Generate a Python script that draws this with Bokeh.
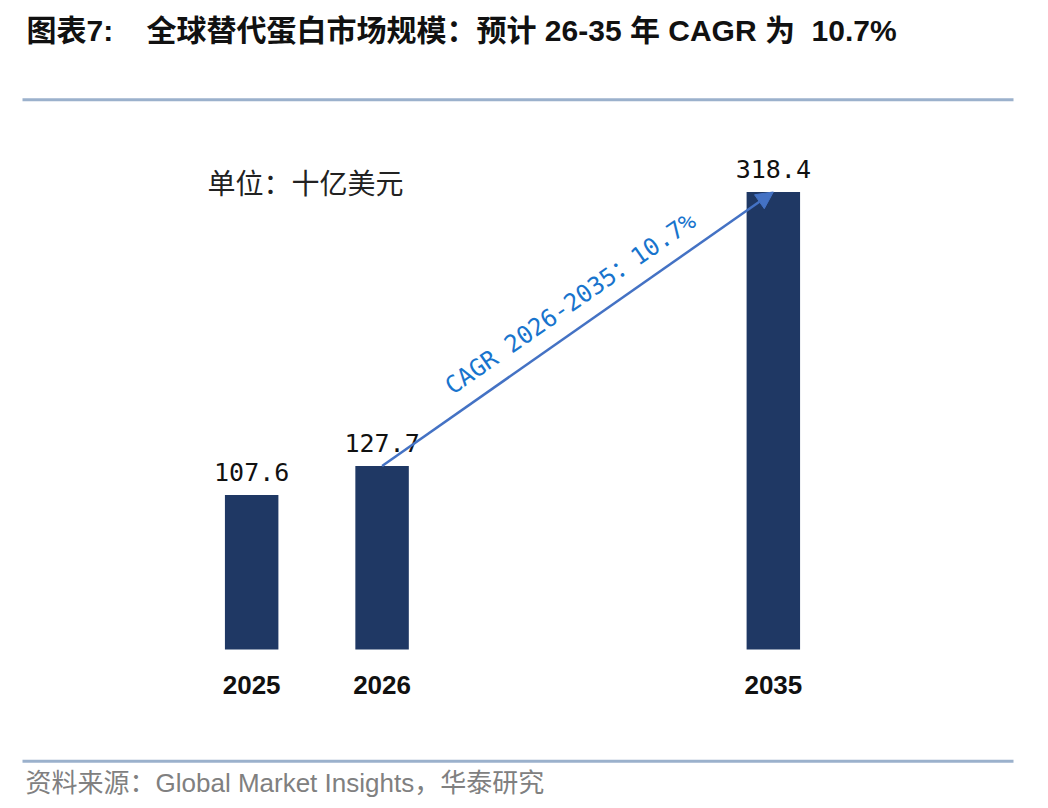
from bokeh.plotting import figure
from bokeh.models import (FactorRange, Range1d, Label, BoxAnnotation, Arrow,
                          NormalHead, ColumnDataSource)
from bokeh.core.properties import value
from bokeh.embed import file_html
from bokeh.resources import INLINE

# ---------------- data ----------------
years = ["2025", "2026", "2035"]
market_size = [107.6, 127.7, 318.4]          # 十亿美元
value_labels = ["107.6", "127.7", "318.4"]
axis_factors = ["2025", "2026", " ", "  ", "2035"]   # blank slots keep the gap before 2035
cagr_from, cagr_to = "2026", "2035"
cagr_text = "CAGR 2026-2035：10.7%"
title_text = "图表7:\u00a0\u00a0\u00a0\u00a0全球替代蛋白市场规模：预计 26-35 年 CAGR 为\u00a0\u00a010.7%"
unit_text = "单位：十亿美元"
source_text = "资料来源：Global Market Insights，华泰研究"

# ---------------- styles / layout ----------------
BAR = "#1F3864"
ARROW = "#4472C4"
CAGR_C = "#1874CD"
RULE = "#9BB1CC"
MIX = "'Liberation Sans', 'Noto Sans CJK SC'"

W, H = 1024, 800
LEFT_PX = 186                 # left edge of the first category slot
SLOT_PX = 130.45              # width of one category slot
BASE_Y = 649                  # page y of the bar baseline
PX_PER_UNIT = 1.437

pad = LEFT_PX / SLOT_PX
p = figure(width=W, height=H,
           x_range=FactorRange(*axis_factors, range_padding=pad,
                               range_padding_units="absolute"),
           y_range=Range1d(-(H - BASE_Y) / PX_PER_UNIT, BASE_Y / PX_PER_UNIT),
           output_backend="svg", toolbar_location=None,
           x_axis_location=None, y_axis_location=None, min_border=0)
p.outline_line_color = None
p.grid.grid_line_color = None
p.background_fill_color = "white"
p.border_fill_color = "white"


def sx(page_x):
    return page_x


def sy(page_y):
    return H - page_y


def dy(page_y):
    return (BASE_Y - page_y) / PX_PER_UNIT


src = ColumnDataSource(dict(year=years, size=market_size, label=value_labels,
                            base=[0] * len(years)))
p.vbar(x="year", top="size", width=0.41, source=src,
       fill_color=BAR, line_color=None)
p.text(x="year", y="size", text="label", source=src,
       text_align="center", text_baseline="bottom", y_offset=-14,
       text_font=value("DejaVu Sans Mono"), text_font_size="25px",
       text_color="#111111")
# category labels under the bars
p.text(x="year", y="base", text="year", source=src,
       text_align="center", text_baseline="middle", y_offset=35,
       text_font=value("Liberation Sans"), text_font_style="bold",
       text_font_size="26px", text_color="#111111")

i0, i1 = years.index(cagr_from), years.index(cagr_to)
asrc = ColumnDataSource(dict(xs=[cagr_from], ys=[market_size[i0]],
                             xe=[cagr_to], ye=[market_size[i1]]))
p.add_layout(Arrow(end=NormalHead(size=17, fill_color=ARROW, line_color=ARROW),
                   x_start="xs", y_start="ys", x_end="xe", y_end="ye",
                   source=asrc, line_color=ARROW, line_width=2.5))

p.add_layout(Label(x=sx(570), y=sy(303), x_units="screen", y_units="screen",
                   text=cagr_text, angle=0.607, text_align="center",
                   text_baseline="middle",
                   text_font="'DejaVu Sans Mono', 'Noto Sans CJK SC'",
                   text_font_size="24px", text_color=CAGR_C))

p.add_layout(Label(x=sx(207), y=sy(181), x_units="screen", y_units="screen",
                   text=unit_text, text_baseline="middle",
                   text_font="Noto Sans CJK SC", text_font_size="28px",
                   text_color="#222222"))

# header
p.add_layout(Label(x=sx(26), y=sy(30), x_units="screen", y_units="screen",
                   text=title_text, text_baseline="middle",
                   text_font=MIX, text_font_style="bold",
                   text_font_size="30px", text_color="#111111"))
# footer
p.add_layout(Label(x=sx(25), y=sy(782), x_units="screen", y_units="screen",
                   text=source_text, text_baseline="middle",
                   text_font=MIX, text_font_size="26px",
                   text_color="#808080"))

# horizontal rules
for yc in (99.2, 760.8):
    p.add_layout(BoxAnnotation(left=sx(22), right=sx(1013),
                               left_units="screen", right_units="screen",
                               top=dy(yc - 1.5), bottom=dy(yc + 1.5),
                               fill_color=RULE, fill_alpha=1.0, line_color=None))

open("out.html", "w").write(file_html(p, INLINE))
